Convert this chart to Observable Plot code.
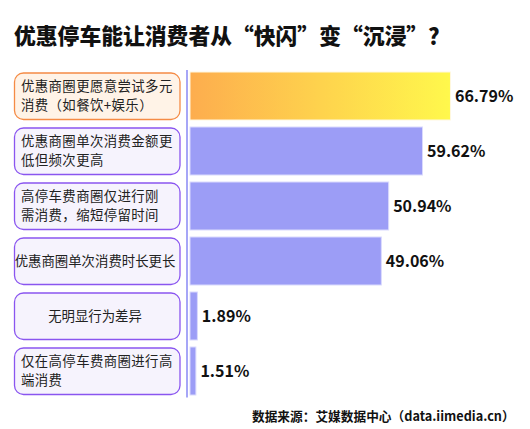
<!DOCTYPE html>
<html><head><meta charset="utf-8">
<script src="https://cdn.jsdelivr.net/npm/d3@7"></script>
<script src="https://cdn.jsdelivr.net/npm/@observablehq/plot@0.6"></script>
<style>
body{margin:0;background:#fff;font-family:"Noto Sans CJK SC",sans-serif;}
#wrap{position:relative;width:530px;height:429px;overflow:hidden;background:#fff;}
#chart{position:absolute;left:0;top:0;}
#title{position:absolute;left:14px;top:20px;font-size:21.8px;font-weight:900;line-height:30px;color:#111;white-space:nowrap;}
#cap{position:absolute;left:252px;top:406px;font-size:12.7px;font-weight:700;line-height:20px;color:#111;white-space:nowrap;}
</style></head><body>
<div id="wrap"><div id="chart"></div><div id="title"></div><div id="cap"></div></div>
<script>
const titleText = "优惠停车能让消费者从“快闪”变“沉浸”？";
const captionText = "数据来源：艾媒数据中心（data.iimedia.cn）";
const categories = [
  "优惠商圈更愿意尝试多元消费（如餐饮+娱乐）",
  "优惠商圈单次消费金额更低但频次更高",
  "高停车费商圈仅进行刚需消费，缩短停留时间",
  "优惠商圈单次消费时长更长",
  "无明显行为差异",
  "仅在高停车费商圈进行高端消费"
];
const labelLines = [
  ["优惠商圈更愿意尝试多元", "消费（如餐饮+娱乐）"],
  ["优惠商圈单次消费金额更", "低但频次更高"],
  ["高停车费商圈仅进行刚", "需消费，缩短停留时间"],
  ["优惠商圈单次消费时长更长"],
  ["无明显行为差异"],
  ["仅在高停车费商圈进行高", "端消费"]
];
const values = [66.79, 59.62, 50.94, 49.06, 1.89, 1.51];
const valueLabels = ["66.79%", "59.62%", "50.94%", "49.06%", "1.89%", "1.51%"];

const data = categories.map((c, i) => ({category: c, value: values[i], label: valueLabels[i], top: i === 0}));

document.getElementById("title").textContent = titleText;
document.getElementById("cap").textContent = captionText;

const FONT = '"Noto Sans CJK SC","Noto Sans",sans-serif';
const pad = 0.13;
const plot = Plot.plot({
  width: 530, height: 429,
  marginLeft: 190, marginRight: 0, marginTop: 62.7, marginBottom: 24.3,
  style: {fontFamily: FONT, background: "transparent", overflow: "visible"},
  x: {domain: [0, 87.18], axis: null},
  y: {domain: categories, padding: pad, axis: null},
  marks: [
    Plot.ruleX([0], {dx: -3.5, stroke: "#a6a6f7", strokeWidth: 2, insetTop: 7.3, insetBottom: 7.3}),
    Plot.barX(data.filter(d => !d.top), {x: "value", y: "category", fill: "#9c9df6", stroke: "#dadafd", strokeWidth: 1}),
    Plot.barX(data.filter(d => d.top), {x: "value", y: "category", fill: "url(#hiGrad)", stroke: "#fff8e0", strokeWidth: 1}),
    Plot.text(data, {x: "value", y: "category", text: "label", dx: 4, textAnchor: "start", fontSize: 16, fontWeight: 700, fill: "#111"})
  ]
});
document.getElementById("chart").appendChild(plot);

const svg = d3.select(plot);
const defs = svg.insert("defs", ":first-child");
const grad = defs.append("linearGradient").attr("id", "hiGrad").attr("x1", "0").attr("x2", "1").attr("y1", "0").attr("y2", "0");
grad.append("stop").attr("offset", "0%").attr("stop-color", "#fdad4e");
grad.append("stop").attr("offset", "100%").attr("stop-color", "#fff84c");

const y = plot.scale("y");
const bw = y.bandwidth;
const g = svg.append("g").attr("font-family", FONT);
categories.forEach((c, i) => {
  const t = y.apply(c);
  const isTop = i === 0;
  g.append("rect")
    .attr("x", 14.5).attr("y", t + 1).attr("width", 165.5).attr("height", bw - 1.5)
    .attr("rx", 9).attr("ry", 9)
    .attr("fill", isTop ? "#fff3e7" : "#f6f3fd")
    .attr("stroke", isTop ? "#f58b45" : "#8a55f0")
    .attr("stroke-width", 1.3);
  const lines = labelLines[i];
  const cy = t + bw / 2;
  const single = lines.length === 1;
  lines.forEach((ln, j) => {
    g.append("text")
      .attr("x", single ? 95 : 21)
      .attr("y", cy + (j - (lines.length - 1) / 2) * 19)
      .attr("dy", "0.36em")
      .attr("text-anchor", single ? "middle" : "start")
      .attr("font-size", 13.4)
      .attr("letter-spacing", single ? 0 : 0.4)
      .attr("fill", "#222")
      .text(ln);
  });
});
</script>
</body></html>
